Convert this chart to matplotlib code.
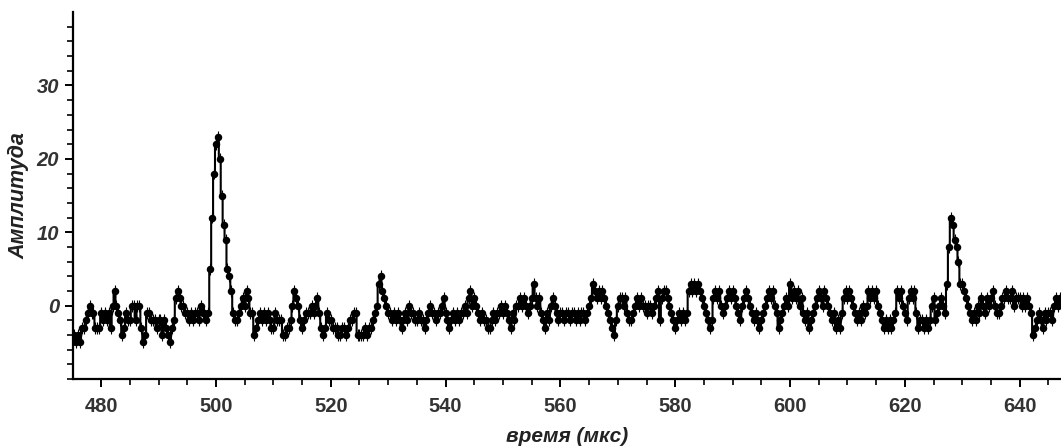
import matplotlib
matplotlib.use("Agg")
import matplotlib.pyplot as plt
import numpy as np
from matplotlib.ticker import MultipleLocator, FixedLocator

# sampling grid of the record (мкс)
t_start = 475.0
t_step = 1.0 / 3.0

# amplitude, one value per sample (5 мкс per row)
amp = [
    -5, -4, -5, -4, -5, -3, -3, -2, -1, 0, -1, -1, -3, -3, -3,        # 475-480
    -1, -2, -1, -2, -1, -3, 0, 2, 0, -1, -2, -4, -3, -1, -2,          # 480-485
    -2, 0, 0, -2, 0, 0, -3, -5, -4, -1, -1, -2, -2, -2, -3,           # 485-490
    -2, -2, -4, -2, -3, -4, -5, -3, -2, 1, 2, 1, 0, 0, -1,            # 490-495
    -1, -2, -1, -2, -1, -1, -2, 0, -1, -1, -2, -1, 5, 12, 18,         # 495-500
    22, 23, 20, 15, 11, 9, 5, 4, 2, -1, -2, -2, -1, 0, 1,             # 500-505
    0, 2, 1, -1, -1, -4, -3, -2, -1, -2, -1, -2, -1, -2, -3,          # 505-510
    -3, -1, -2, -2, -2, -4, -4, -3, -3, -2, 0, 2, 1, 0, -2,           # 510-515
    -3, -2, -1, -1, -1, 0, -1, 0, 1, -1, -3, -4, -3, -1, -2,          # 515-520
    -2, -3, -3, -3, -4, -4, -3, -3, -4, -3, -2, -2, -1, -1, -4,       # 520-525
    -4, -4, -4, -3, -4, -3, -3, -2, -1, 0, 3, 4, 2, 1, 0,             # 525-530
    -1, -1, -2, -1, -2, -1, -2, -3, -2, -1, -2, 0, -1, -1, -2,        # 530-535
    -2, -1, -2, -2, -3, -2, -1, 0, -1, -1, -2, -1, -1, 0, 1,          # 535-540
    -1, -2, -3, -2, -1, -2, -1, -2, -1, -1, 0, -1, 1, 2, 0,           # 540-545
    1, 0, -1, -2, -1, -2, -2, -3, -3, -2, -1, -2, -1, -1, 0,          # 545-550
    -1, 0, -1, -2, -3, -1, -2, 0, 0, 1, 0, 1, 0, -1, 0,               # 550-555
    1, 3, 1, 0, 1, -1, -2, -3, -1, -2, 0, 1, 0, -1, -2,               # 555-560
    -1, -1, -2, -1, -1, -2, -1, -1, -2, -1, -2, -1, -1, -2, -1,       # 560-565
    0, 1, 3, 2, 1, 2, 1, 2, 1, 0, -1, -2, -3, -4, -2,                 # 565-570
    0, 1, 1, 0, 1, -1, -2, -2, -1, 0, 1, 0, 1, 0, 0,                  # 570-575
    -1, 0, 0, -1, 0, 1, 2, -2, 1, 2, 2, 1, 0, -1, -2,                 # 575-580
    -3, -2, -1, -2, -1, -2, -1, 2, 3, 2, 3, 2, 3, 2, 1,               # 580-585
    0, -1, -2, -3, -2, 1, 2, 1, 2, 0, -1, 0, 1, 2, 1,                 # 585-590
    2, 1, 0, -1, -2, 0, 1, 2, 1, 0, -1, -2, -1, -2, -3,               # 590-595
    -2, -1, 0, 1, 2, 1, 2, 0, -1, -3, -2, -1, 0, 1, 0,                # 595-600
    3, 1, 2, 1, 2, 0, 1, -1, -2, -1, -3, -2, -1, 0, 1,                # 600-605
    2, 1, 0, 2, 1, 0, -1, -2, -1, -3, -2, -3, -1, 1, 2,               # 605-610
    1, 2, 1, 0, -1, -2, -1, -2, 0, -1, 0, 2, 1, 2, 1,                 # 610-615
    2, 0, -1, -2, -3, -2, -3, -2, -3, -2, -1, 2, 1, 2, 0,             # 615-620
    -1, -2, 1, 2, 1, 2, -1, -3, -2, -2, -3, -2, -3, -2, 0,            # 620-625
    1, -2, -1, 0, 1, 0, -1, 3, 8, 12, 11, 9, 8, 6, 3,                 # 625-630
    3, 2, 1, 0, -1, -2, -1, -2, 0, -1, 1, 0, -1, 1, 0,                # 630-635
    1, 2, 0, -1, -1, 0, 1, 1, 2, 1, 1, 2, 0, 1, 1,                    # 635-640
    1, 0, 1, 0, 1, 0, -1, -4, -3, -2, -1, -2, -3, -1, -2,             # 640-645
    -1, -1, -2, 0, 1, 0, 1,                                           # 645-647
]
amp_err = 0.8

x_ticks = [480, 500, 520, 540, 560, 580, 600, 620, 640]
y_ticks = [0, 10, 20, 30]

t = t_start + t_step * np.arange(len(amp))
amp = np.array(amp, dtype=float)

plt.rcParams['font.family'] = ['Liberation Sans', 'DejaVu Sans']

fig = plt.figure(figsize=(10.61, 4.47), dpi=100)
ax = fig.add_axes([0.0688, 0.152, 0.9312, 0.821])

ax.errorbar(t, amp, yerr=amp_err, fmt='none', ecolor='black', elinewidth=0.8)
ax.plot(t, amp, color='black', lw=1.5, drawstyle='steps-mid')
ax.plot(t, amp, 'o', color='black', ms=5.4, mew=0)

ax.set_xlim(475.1, 647.2)
ax.set_ylim(-10, 40)

ax.xaxis.set_major_locator(FixedLocator(x_ticks))
ax.xaxis.set_minor_locator(MultipleLocator(5))
ax.yaxis.set_major_locator(FixedLocator(y_ticks))
ax.yaxis.set_minor_locator(FixedLocator(np.arange(-10, 40, 2)))

for side in ['top', 'right']:
    ax.spines[side].set_visible(False)
for side in ['left', 'bottom']:
    ax.spines[side].set_linewidth(1.6)
    ax.spines[side].set_color('black')

ax.tick_params(which='major', direction='out', length=6, width=1.4, color='black')
ax.tick_params(which='minor', direction='out', length=4, width=1.2, color='black')
ax.tick_params(axis='x', labelsize=14.5, labelcolor='#333333', pad=7)
ax.tick_params(axis='y', labelsize=14.5, labelcolor='#333333', pad=4)

for lab in ax.get_xticklabels():
    lab.set_fontweight('bold')
for lab in ax.get_yticklabels():
    lab.set_fontweight('bold')
    lab.set_fontstyle('italic')

ax.set_xlabel('время (мкс)', fontsize=15, fontweight='bold', fontstyle='italic',
              color='#222222', labelpad=8)
ax.set_ylabel('Амплитуда', fontsize=15.5, fontweight='bold', fontstyle='italic',
              color='#222222', labelpad=5)

fig.savefig('out.png', dpi=100)
